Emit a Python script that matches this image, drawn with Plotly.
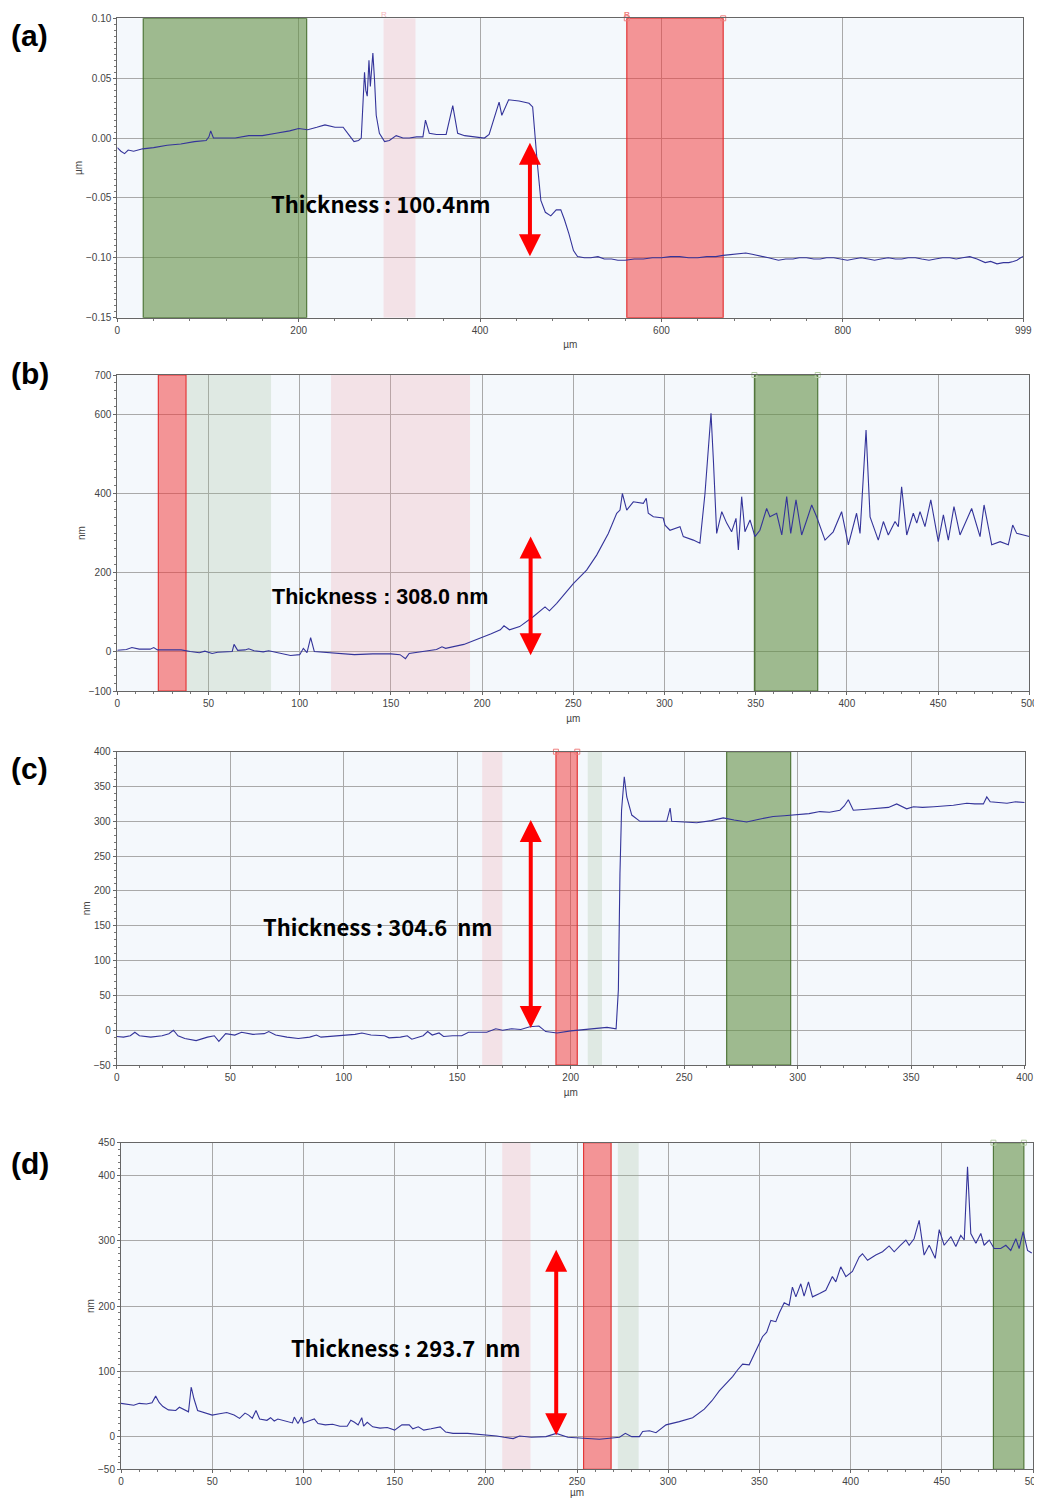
import plotly.graph_objects as go

# page body adds an 8px margin, so the figure is sized to fit inside it without scrollbars
OFF = 8
W, H = 1042 - OFF, 1506 - 2 * OFF

# ---------------- data ----------------
panel_labels = ["(a)", "(b)", "(c)", "(d)"]
thickness_texts = ["Thickness : 100.4nm", "Thickness : 308.0 nm", "Thickness : 304.6  nm", "Thickness : 293.7  nm"]
y_units = ["µm", "nm", "nm", "nm"]
x_unit = "µm"

a_profile = [(0,-0.008),(4,-0.011),(8,-0.013),(12,-0.010),(18,-0.011),(28,-0.009),(40,-0.008),(55,-0.006),
    (70,-0.005),(85,-0.003),(98,-0.002),(101,0.001),(103,0.006),(106,0.000),(115,0.000),(130,0.000),(145,0.002),
    (160,0.002),(175,0.004),(190,0.006),(200,0.008),(210,0.007),(220,0.009),(229,0.011),(240,0.009),(249,0.009),
    (256,0.002),(261,-0.003),(266,-0.002),(269,0.000),(272.6,0.055),(274,0.040),(275.6,0.035),(277.5,0.065),
    (279,0.043),(281.8,0.071),(283.6,0.049),(285.5,0.019),(289,0.004),(294.7,-0.003),(300,-0.002),(307.5,0.002),
    (315,0.000),(322,0.000),(330,0.001),(337,0.001),(339.8,0.015),(344,0.004),(352,0.003),(362.6,0.003),
    (369.9,0.027),(375.3,0.004),(383,0.002),(392,0.001),(404.8,0.000),(410,0.003),(417.6,0.022),(421,0.030),
    (424,0.019),(431.5,0.032),(443,0.031),(454,0.029),(458,0.026),(460,0.005),(463,-0.020),(467,-0.052),
    (472,-0.062),(478,-0.065),(484,-0.060),(489,-0.060),(493,-0.068),(498,-0.080),(503,-0.094),(507.5,-0.099),
    (515,-0.100),(522,-0.100),(530,-0.099),(537,-0.101),(545,-0.101),(552,-0.102),(560,-0.102),(570,-0.101),
    (580,-0.101),(590,-0.100),(600,-0.100),(610,-0.099),(620,-0.099),(630,-0.100),(640,-0.100),(650,-0.099),
    (660,-0.099),(668,-0.098),(680,-0.097),(693,-0.096),(700,-0.097),(705,-0.098),(712,-0.099),(718,-0.100),
    (729,-0.102),(737,-0.101),(745,-0.101),(752,-0.100),(760,-0.100),(768,-0.101),(775,-0.101),(782,-0.100),
    (790,-0.100),(797,-0.101),(805,-0.102),(812,-0.101),(820,-0.100),(828,-0.101),(835,-0.102),(842,-0.101),
    (850,-0.100),(858,-0.101),(865,-0.101),(872,-0.100),(880,-0.100),(887,-0.101),(895,-0.102),(902,-0.101),
    (910,-0.100),(918,-0.100),(925,-0.101),(932,-0.100),(940,-0.099),(948,-0.101),(957,-0.104),(963,-0.103),
    (970,-0.105),(977,-0.104),(983,-0.104),(988,-0.103),(992,-0.102),(996,-0.100),(999,-0.099)]

b_profile = [(0,3),(5,5),(8,10),(12,6),(18,6),(20,10),(22,4),(30,3),(35,4),(40,0),(45,-3),(48,1),(52,-5),(55,-2),
    (60,0),(63,0),(64,18),(66,3),(70,4),(72,7),(75,2),(80,-1),(83,2),(90,-6),(95,-10),(100,-8),(102,8),(104,-3),
    (106,35),(108,0),(115,-2),(120,-5),(130,-8),(140,-6),(150,-6),(155,-8),(158,-18),(160,-5),(170,2),(175,5),
    (178,12),(180,8),(190,18),(200,35),(205,45),(210,55),(212,65),(215,55),(220.6,63),(228,88),(234.5,113),
    (236.9,103),(240.9,122),(250,172),(257.3,206),(262.8,244),(269.2,299),(273.8,350),(275.6,358),(276.9,400),
    (279.3,358),(282.9,379),(288.4,375),(290,388),(291.1,350),(293.9,341),(299.3,338),(300.3,320),(303,307),
    (308.5,316),(310.3,291),(315.8,282),(319.4,274),(322.2,400),(325.5,603),(326.8,485),(328.6,299),(331.4,354),
    (334.1,325),(336.8,303),(339.2,337),(340.5,257),(342.3,392),(344.1,303),(346.9,333),(349.6,291),(352.3,307),
    (356,362),(357.8,341),(361.5,350),(364.3,295),(367,392),(369.2,299),(372.1,384),(375.2,295),(378,333),
    (380.7,371),(383.4,341),(388,282),(392.5,303),(397.1,354),(400.8,270),(405.3,350),(407.2,299),(410.5,561),
    (412.7,341),(417.2,282),(420,329),(422.7,295),(426.4,329),(428.2,316),(430,417),(432.8,295),(436.4,350),
    (438.3,325),(440.1,354),(442.8,316),(446,384),(450.1,278),(452.9,346),(455.6,282),(458.7,367),(462,295),
    (468.4,362),(473,291),(475.2,371),(479.4,270),(484,278),(488.5,270),(490.9,320),(493.1,299),(500,291)]

c_profile = [(0,-9),(3,-10),(6,-8),(8,-3),(10,-8),(15,-10),(20,-8),(23,-5),(25,0),(27,-8),(30,-12),(35,-15),
    (40,-10),(43,-8),(45,-16),(48,-5),(52,-7),(55,-3),(60,-6),(65,-5),(67,-2),(70,-7),(75,-10),(80,-12),(85,-10),
    (88,-7),(90,-10),(95,-9),(100,-8),(105,-6),(108,-4),(112,-7),(118,-8),(120,-11),(125,-10),(128,-8),(130,-13),
    (135,-8),(137,-2),(139,-7),(142,-4),(144,-9),(148,-8),(152,-8),(155,-3),(160,-3),(163,-3),(167,2),(170,0),
    (174,2),(178,1),(182,5),(186,6),(189,-2),(194,-4),(200,-1),(207,1),(212,3),(216,4),(220,2),(221,58),
    (221.7,225),(222.4,316),(223.6,364),(224.7,335),(226.9,309),(230.5,300),(236.4,300),(242.3,300),(243.8,319),
    (244.5,300),(250,299),(255.5,298),(262,301),(267.2,305),(272,302),(277.5,299),(283,303),(289.2,307),(294,308),
    (299.5,309),(305,311),(309.8,314),(314,313),(318.6,316),(320.5,322),(322.3,331),(324.5,316),(329,317),
    (333.3,318),(340,320),(343.6,325),(348,318),(351,321),(355,320),(360,321),(364,322),(368.6,323),(374.5,326),
    (378,325),(381.8,325),(383.3,335),(384.8,328),(388,327),(392.2,326),(396,328),(400,327)]

d_profile = [(0,51),(4,49),(7,48),(10,51),(14,50),(17,52),(19,62),(21,52),(23,46),(26,41),(30,40),(32,45),(35,40),
    (37,38),(38.5,76),(40,58),(42,40),(46,36),(50,33),(54,35),(58,37),(62,33),(65,28),(68,36),(70,33),(72,28),
    (74,40),(76,27),(80,25),(82,29),(84,24),(86,27),(90,24),(94,21),(95,30),(97,20),(99,30),(100,21),(104,25),
    (106,27),(108,20),(112,18),(116,19),(120,16),(124,16),(126,25),(128,22),(130,18),(132,29),(133,16),(135,22),
    (138,15),(142,13),(146,14),(150,10),(154,18),(158,18),(160,12),(163,15),(166,10),(170,12),(175,15),(178,7),
    (182,5),(190,5),(200,3),(206,1),(210,-1),(215,-3),(218.5,1),(225,-1),(233,0),(238.6,5),(245,-1),(251.4,-2),
    (262.3,-4),(273.3,-1),(276.5,5),(280,0),(284.2,0),(286,8),(289.7,9),(293.3,6),(298.8,18),(306.1,23),
    (313.4,29),(319.8,42),(324,55),(328,70),(332,82),(335.3,92),(338,102),(340.8,111),(344.4,110),(348,130),
    (351.7,153),(354,160),(356.3,178),(359,176),(361,190),(363.6,205),(366.3,201),(368.1,229),(370,214),
    (372.7,234),(374.5,215),(376.9,237),(379.1,214),(383,219),(386.4,224),(390,245),(391.9,237),(394.6,260),
    (397.4,245),(401,253),(404.7,275),(406.5,280),(409.3,270),(413.8,278),(417.5,283),(421.1,292),(423.9,283),
    (427,292),(430.3,301),(432.1,293),(434.8,303),(437.6,331),(440.3,278),(443.1,293),(446.4,273),(448.6,317),
    (451.3,293),(455,306),(457.7,291),(460.4,308),(462.3,301),(464.1,413),(465.9,311),(468.7,296),(471.4,311),
    (473.2,293),(476,301),(478.7,288),(482.3,288),(485.1,293),(487.8,285),(490.6,303),(492.4,288),(494.6,314),
    (497,285),(499.3,281)]

# measurement regions: (start, end, kind)
a_regions = [(28.6, 208.8, "green"), (293.6, 328.8, "pink"), (561.8, 668.1, "red")]
b_regions = [(22.5, 37.7, "red"), (38.0, 84.3, "ltgreen"), (117.2, 193.4, "pink"), (349.3, 384.0, "green")]
c_regions = [(161.0, 169.9, "pink"), (193.5, 202.9, "red"), (207.5, 213.8, "ltgreen"), (268.7, 296.9, "green")]
d_regions = [(209.0, 224.5, "pink"), (253.6, 268.7, "red"), (272.4, 283.8, "ltgreen"), (478.3, 495.0, "green")]

# cursor handles on top edge: (x, kind)
a_handles = [(561.8, "red"), (668.1, "red")]
b_handles = [(349.3, "green"), (384.0, "green")]
c_handles = [(193.5, "red"), (202.9, "red")]
d_handles = [(478.3, "green"), (495.0, "green")]
# cursor letters: (x, text, kind)
a_marks = [(293.6, "R", "pink"), (561.8, "R", "red")]

# step arrows: (x, y_bottom, y_top)
a_arrow = (455, -0.100, -0.004)
b_arrow = (226.6, -13, 291)
c_arrow = (182.4, 1, 302)
d_arrow = (238.6, 0, 286)

# text anchor (x, y)
a_text_pos = (291, -0.054)
b_text_pos = (144, 138)
c_text_pos = (115, 150)
d_text_pos = (156, 137)

# axis ticks
a_xticks = [0, 200, 400, 600, 800, 999]
a_yticks = [-0.15, -0.10, -0.05, 0.00, 0.05, 0.10]
b_xticks = [0, 50, 100, 150, 200, 250, 300, 350, 400, 450, 500]
b_yticks = [-100, 0, 200, 400, 600, 700]
c_xticks = [0, 50, 100, 150, 200, 250, 300, 350, 400]
c_yticks = [-50, 0, 50, 100, 150, 200, 250, 300, 350, 400]
d_xticks = [0, 50, 100, 150, 200, 250, 300, 350, 400, 450, 500]
d_yticks = [-50, 0, 100, 200, 300, 400, 450]

# ---------------- layout geometry (screen pixels) ----------------
boxes = [  # left, right, top, bottom
    (117.3, 1023.3, 18.3, 317.7),
    (117.3, 1029.3, 375.0, 691.0),
    (116.7, 1024.7, 751.7, 1065.0),
    (121.0, 1033.0, 1142.7, 1469.3),
]
x_title_standoff = [6, 6, 6, 3]
panels = [
    dict(prof=a_profile, reg=a_regions, hd=a_handles, mk=a_marks, arr=a_arrow, tp=a_text_pos, xt=a_xticks,
         yt=a_yticks, xr=[0, 999], yr=[-0.15, 0.10], xminor=40, yminor=0.005, yfmt=".2f",
         font="Noto Sans CJK KR", fs=22),
    dict(prof=b_profile, reg=b_regions, hd=b_handles, mk=[], arr=b_arrow, tp=b_text_pos, xt=b_xticks,
         yt=b_yticks, xr=[0, 500], yr=[-100, 700], xminor=10, yminor=20, yfmt="d",
         font="Liberation Sans", fs=21.5),
    dict(prof=c_profile, reg=c_regions, hd=c_handles, mk=[], arr=c_arrow, tp=c_text_pos, xt=c_xticks,
         yt=c_yticks, xr=[0, 400], yr=[-50, 400], xminor=10, yminor=10, yfmt="d",
         font="Noto Sans CJK KR", fs=22),
    dict(prof=d_profile, reg=d_regions, hd=d_handles, mk=[], arr=d_arrow, tp=d_text_pos, xt=d_xticks,
         yt=d_yticks, xr=[0, 500], yr=[-50, 450], xminor=10, yminor=10, yfmt="d",
         font="Noto Sans CJK KR", fs=22),
]
label_y = [35, 373, 768, 1163]

fills = {
    "green": ("rgba(100,145,70,0.6)", "rgba(70,110,45,0.9)"),
    "red": ("rgba(242,55,55,0.52)", "rgba(225,40,40,0.9)"),
    "pink": ("rgba(240,150,160,0.22)", "rgba(240,150,160,0.0)"),
    "ltgreen": ("rgba(150,180,140,0.22)", "rgba(150,180,140,0.0)"),
}
handle_col = {"red": "#f08080", "green": "#b8cfa8", "pink": "#f5b5bb"}


def fx(px):
    return (px - OFF) / W


def fy(py):
    return 1 - (py - OFF) / H


fig = go.Figure()
shapes, annotations = [], []
layout = dict(width=W, height=H, margin=dict(l=0, r=0, t=0, b=0, autoexpand=False),
              paper_bgcolor="white", plot_bgcolor="#f4f8fc", showlegend=False)

tickfont = dict(family="Liberation Sans", size=10, color="#444")

for i, p in enumerate(panels):
    n = i + 1
    xs = "x" if n == 1 else f"x{n}"
    ys = "y" if n == 1 else f"y{n}"
    l, r, t, b = boxes[i]
    xname = "xaxis" if n == 1 else f"xaxis{n}"
    yname = "yaxis" if n == 1 else f"yaxis{n}"
    layout[xname] = dict(domain=[fx(l), fx(r)], range=p["xr"], anchor=ys, tickvals=p["xt"], automargin=False,
                         showgrid=True, gridcolor="#a9a9a9", gridwidth=1, zeroline=False,
                         showline=True, linecolor="#666", mirror=True, ticks="outside", ticklen=3,
                         tickcolor="#666", tickfont=tickfont,
                         minor=dict(dtick=p["xminor"], tick0=0, ticks="outside", ticklen=2, tickcolor="#777",
                                    showgrid=False),
                         title=dict(text=x_unit, font=dict(family="Liberation Sans", size=10, color="#444"),
                                    standoff=x_title_standoff[i]))
    layout[yname] = dict(domain=[fy(b), fy(t)], range=p["yr"], anchor=xs, tickvals=p["yt"],
                         tickformat=p["yfmt"], automargin=False,
                         showgrid=True, gridcolor="#a9a9a9", gridwidth=1, zeroline=False,
                         showline=True, linecolor="#666", mirror=True, ticks="outside", ticklen=3,
                         tickcolor="#666", tickfont=tickfont,
                         minor=dict(dtick=p["yminor"], tick0=0, ticks="outside", ticklen=2, tickcolor="#777",
                                    showgrid=False),
                         title=dict(text=y_units[i], font=dict(family="Liberation Sans", size=10, color="#444"),
                                    standoff=1))
    for (x0, x1, kind) in p["reg"]:
        fc, lc = fills[kind]
        shapes.append(dict(type="rect", xref=xs, yref=ys, x0=x0, x1=x1, y0=p["yr"][0], y1=p["yr"][1],
                           fillcolor=fc, line=dict(color=lc, width=1.2), layer="between"))
    px = [pt[0] for pt in p["prof"]]
    py = [pt[1] for pt in p["prof"]]
    fig.add_trace(go.Scatter(x=px, y=py, mode="lines", xaxis=xs, yaxis=ys,
                             line=dict(color="#34349a", width=1.1), hoverinfo="skip"))
    # cursor handles at top edge
    hx = [h[0] for h in p["hd"]]
    hc = [handle_col[h[1]] for h in p["hd"]]
    fig.add_trace(go.Scatter(x=hx, y=[p["yr"][1]] * len(hx), mode="markers", xaxis=xs, yaxis=ys,
                             cliponaxis=False, hoverinfo="skip",
                             marker=dict(symbol="square-open", size=5, color=hc, line=dict(width=1))))
    for (mx, mt, kind) in p["mk"]:
        annotations.append(dict(x=mx, y=1, xref=xs, yref="paper", yanchor="top", showarrow=False,
                                text="<b>" + mt + "</b>" if kind == "red" else mt,
                                font=dict(family="Liberation Sans", size=8, color=handle_col[kind])))
    ax_, y0_, y1_ = p["arr"]
    annotations.append(dict(x=ax_, y=y1_, ax=ax_, ay=y0_, xref=xs, yref=ys, axref=xs, ayref=ys,
                            text="", showarrow=True, arrowhead=2, arrowside="end+start",
                            arrowsize=1.1, arrowwidth=4, arrowcolor="#ff0000", standoff=0, startstandoff=0))
    annotations.append(dict(x=p["tp"][0], y=p["tp"][1], xref=xs, yref=ys, showarrow=False,
                            text="<b>" + thickness_texts[i] + "</b>",
                            font=dict(family=p["font"], size=p["fs"], color="black")))
    annotations.append(dict(x=fx(9), y=fy(label_y[i]), xref="paper", yref="paper", xanchor="left",
                            yanchor="middle", showarrow=False, text="<b>" + panel_labels[i] + "</b>",
                            font=dict(family="Liberation Sans", size=30, color="black")))

layout["shapes"] = shapes
layout["annotations"] = annotations
fig.update_layout(**layout)
fig.write_html("out.html", default_width=f"{W}px", default_height=f"{H}px")
